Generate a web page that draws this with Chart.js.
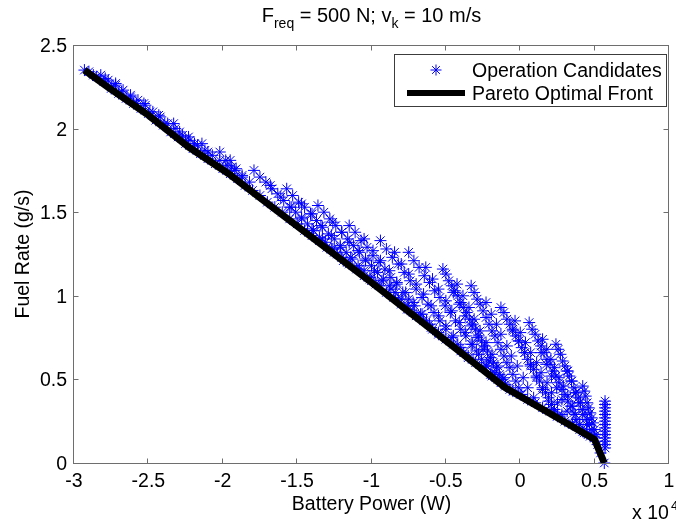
<!DOCTYPE html>
<html>
<head>
<meta charset="utf-8">
<script src="https://cdn.jsdelivr.net/npm/chart.js@4.4.1/dist/chart.umd.min.js"></script>
<style>
    html, body { margin: 0; padding: 0; background: #fff; }
    #wrap { width: 676px; height: 523px; }
</style>
</head>
<body>
<div id="wrap"><canvas id="fuelChart" width="676" height="523"></canvas></div>
<script>
'use strict';

// Pareto optimal front (battery power in 1e4 W, fuel rate in g/s)
const paretoBatt = [-2.93, -2.76, -2.50, -2.23, -1.96, -1.77, -1.43, -1.00, -0.44, -0.10, 0.27, 0.50, 0.565];
const paretoFuel = [2.35, 2.24, 2.08, 1.89, 1.73, 1.60, 1.37, 1.08, 0.69, 0.45, 0.26, 0.14, 0.0];

// operation candidates as [battery power, fuel rate]
// points lying just on top of the front
const candEdge = [
    [-2.90, 2.34], [-2.85, 2.31], [-2.80, 2.28], [-2.75, 2.24], [-2.70, 2.21], [-2.65, 2.18], [-2.60, 2.15],
    [-2.55, 2.12], [-2.50, 2.09], [-2.45, 2.05], [-2.40, 2.02], [-2.35, 1.98], [-2.30, 1.95], [-2.25, 1.91],
    [-2.20, 1.88], [-2.15, 1.85], [-2.10, 1.82], [-2.05, 1.79], [-2.00, 1.76], [-1.95, 1.73], [-1.90, 1.70],
    [-1.85, 1.66], [-1.80, 1.63], [-1.75, 1.60], [-1.70, 1.56], [-1.65, 1.53], [-1.60, 1.50], [-1.55, 1.46],
    [-1.50, 1.43], [-1.45, 1.39], [-1.40, 1.36], [-1.35, 1.33], [-1.30, 1.29], [-1.25, 1.26], [-1.20, 1.23],
    [-1.15, 1.19], [-1.10, 1.16], [-1.05, 1.12], [-1.00, 1.09], [-0.95, 1.06], [-0.90, 1.02], [-0.85, 0.99],
    [-0.80, 0.95], [-0.75, 0.92], [-0.70, 0.88], [-0.65, 0.85], [-0.60, 0.81], [-0.55, 0.78], [-0.50, 0.74],
    [-0.45, 0.71], [-0.40, 0.67], [-0.35, 0.64], [-0.30, 0.60], [-0.25, 0.57], [-0.20, 0.53], [-0.15, 0.50],
    [-0.10, 0.46], [-0.05, 0.43], [0.00, 0.41], [0.05, 0.38], [0.10, 0.36], [0.15, 0.33], [0.20, 0.31],
    [0.25, 0.28], [0.30, 0.25], [0.35, 0.23], [0.40, 0.20], [0.45, 0.18], [0.50, 0.15], [0.52, 0.11], [0.54, 0.06]
];
// thin band on the left, between the front and the upper edge
const candBand = [
    [-2.93, 2.35], [-2.87, 2.32], [-2.79, 2.30], [-2.75, 2.25], [-2.72, 2.27], [-2.68, 2.22], [-2.62, 2.19],
    [-2.58, 2.15], [-2.53, 2.15], [-2.49, 2.10], [-2.43, 2.08], [-2.39, 2.03], [-2.33, 2.03], [-2.29, 1.98],
    [-2.25, 1.93], [-2.23, 1.95], [-2.19, 1.91], [-2.14, 1.91], [-2.10, 1.86], [-2.02, 1.86], [-1.98, 1.81],
    [-1.94, 1.77], [-1.95, 1.81], [-1.91, 1.76], [-1.87, 1.72],
    [-2.82, 2.32], [-2.77, 2.29], [-2.72, 2.26], [-2.67, 2.23], [-2.62, 2.20], [-2.57, 2.17], [-2.52, 2.14],
    [-2.47, 2.10], [-2.42, 2.07], [-2.37, 2.03], [-2.32, 2.00], [-2.27, 1.96], [-2.22, 1.93], [-2.17, 1.90],
    [-2.12, 1.87], [-2.07, 1.84], [-2.02, 1.81], [-1.97, 1.78], [-1.92, 1.75], [-1.87, 1.71], [-1.82, 1.68]
];
const candMid = [
    [-1.79, 1.75], [-1.75, 1.71], [-1.71, 1.68], [-1.67, 1.64], [-1.63, 1.61], [-1.59, 1.57], [-1.55, 1.53], [-1.51, 1.50],
    [-1.47, 1.46], [-1.43, 1.43], [-1.39, 1.39], [-1.35, 1.35], [-1.31, 1.32], [-1.27, 1.28], [-1.23, 1.25],
    [-1.68, 1.66], [-1.61, 1.59], [-1.54, 1.53], [-1.47, 1.47], [-1.40, 1.40], [-1.33, 1.34], [-1.26, 1.28], [-1.19, 1.21],
    [-1.57, 1.64], [-1.53, 1.60], [-1.49, 1.56], [-1.45, 1.53], [-1.41, 1.49], [-1.37, 1.45], [-1.33, 1.41], [-1.29, 1.37],
    [-1.25, 1.34], [-1.21, 1.30], [-1.17, 1.26], [-1.13, 1.22], [-1.09, 1.18], [-1.05, 1.15], [-1.01, 1.11], [-0.97, 1.07],
    [-1.47, 1.55], [-1.40, 1.49], [-1.34, 1.42], [-1.27, 1.36], [-1.21, 1.29], [-1.14, 1.23], [-1.08, 1.16], [-1.01, 1.10],
    [-1.36, 1.54], [-1.32, 1.50], [-1.28, 1.46], [-1.24, 1.42], [-1.20, 1.38], [-1.16, 1.34], [-1.12, 1.30], [-1.08, 1.26], [-1.04, 1.22],
    [-1.00, 1.18], [-0.96, 1.14], [-0.92, 1.10], [-0.88, 1.06], [-0.84, 1.02], [-0.80, 0.98], [-0.76, 0.94], [-0.72, 0.90],
    [-1.26, 1.44], [-1.20, 1.38], [-1.15, 1.32], [-1.09, 1.27], [-1.04, 1.21], [-0.98, 1.15], [-0.93, 1.09], [-0.87, 1.04], [-0.82, 0.98], [-0.76, 0.92],
    [-1.15, 1.42], [-1.11, 1.38], [-1.07, 1.33], [-1.03, 1.29], [-0.99, 1.24], [-0.95, 1.20], [-0.91, 1.16], [-0.87, 1.11],
    [-0.83, 1.07], [-0.79, 1.02], [-0.75, 0.98], [-0.71, 0.94], [-0.67, 0.89], [-0.63, 0.85], [-0.59, 0.80],
    [-1.05, 1.34], [-0.99, 1.27], [-0.94, 1.21], [-0.88, 1.15], [-0.83, 1.08], [-0.77, 1.02], [-0.72, 0.96], [-0.66, 0.89], [-0.61, 0.83], [-0.55, 0.77],
    [-0.94, 1.33], [-0.90, 1.28], [-0.86, 1.23], [-0.82, 1.19], [-0.78, 1.14], [-0.74, 1.09], [-0.70, 1.04], [-0.66, 0.99],
    [-0.62, 0.95], [-0.58, 0.90], [-0.54, 0.85], [-0.50, 0.80], [-0.46, 0.75], [-0.42, 0.71], [-0.38, 0.66],
    [-0.845, 1.26], [-0.80, 1.19], [-0.75, 1.13], [-0.70, 1.07], [-0.65, 1.01], [-0.60, 0.94], [-0.55, 0.88], [-0.50, 0.82],
    [-0.45, 0.76], [-0.40, 0.69], [-0.35, 0.63],
    [-0.75, 1.26], [-0.715, 1.21], [-0.68, 1.17], [-0.645, 1.12], [-0.61, 1.08], [-0.575, 1.03], [-0.54, 0.99], [-0.505, 0.94], [-0.47, 0.90],
    [-0.435, 0.85], [-0.40, 0.80], [-0.365, 0.76], [-0.33, 0.71], [-0.295, 0.67], [-0.26, 0.62], [-0.225, 0.58], [-0.19, 0.53],
    [-0.635, 1.17], [-0.59, 1.10], [-0.55, 1.04], [-0.50, 0.97], [-0.46, 0.91], [-0.41, 0.84], [-0.37, 0.78], [-0.32, 0.71],
    [-0.28, 0.65], [-0.23, 0.58], [-0.19, 0.52]
];
const candRight = [
    [-0.52, 1.16], [-0.50, 1.13], [-0.48, 1.09], [-0.46, 1.06], [-0.44, 1.03], [-0.42, 1.00], [-0.40, 0.96], [-0.38, 0.93],
    [-0.36, 0.90], [-0.34, 0.86], [-0.32, 0.83], [-0.30, 0.80], [-0.28, 0.76], [-0.26, 0.73], [-0.24, 0.70], [-0.22, 0.67],
    [-0.20, 0.63], [-0.18, 0.60], [-0.16, 0.57], [-0.14, 0.53], [-0.12, 0.50], [-0.10, 0.47],
    [-0.45, 1.02], [-0.41, 0.95], [-0.37, 0.88], [-0.33, 0.82], [-0.29, 0.75], [-0.25, 0.68], [-0.21, 0.61], [-0.17, 0.54], [-0.13, 0.48],
    [-0.425, 1.07], [-0.385, 1.00], [-0.345, 0.93], [-0.31, 0.86], [-0.27, 0.79], [-0.23, 0.72], [-0.19, 0.65], [-0.15, 0.58],
    [-0.11, 0.51], [-0.07, 0.44],
    [-0.33, 1.06], [-0.31, 1.02], [-0.29, 0.98], [-0.27, 0.95], [-0.25, 0.91], [-0.23, 0.87], [-0.21, 0.83], [-0.19, 0.79],
    [-0.17, 0.76], [-0.15, 0.72], [-0.13, 0.68], [-0.11, 0.64], [-0.09, 0.60], [-0.07, 0.57], [-0.05, 0.53], [-0.03, 0.49],
    [-0.01, 0.45], [0.01, 0.41],
    [-0.23, 0.96], [-0.195, 0.89], [-0.16, 0.83], [-0.13, 0.77], [-0.09, 0.70], [-0.06, 0.64], [-0.02, 0.58], [0.02, 0.51],
    [0.05, 0.45], [0.09, 0.39],
    [-0.13, 0.93], [-0.11, 0.90], [-0.09, 0.86], [-0.07, 0.83], [-0.05, 0.79], [-0.03, 0.76], [-0.01, 0.73], [0.01, 0.69],
    [0.03, 0.66], [0.05, 0.62], [0.07, 0.59], [0.09, 0.56], [0.11, 0.52], [0.13, 0.49], [0.15, 0.45], [0.17, 0.42],
    [0.19, 0.39], [0.21, 0.35], [0.23, 0.32], [0.25, 0.28],
    [-0.05, 0.80], [-0.01, 0.73], [0.03, 0.66], [0.07, 0.58], [0.11, 0.51], [0.15, 0.44], [0.19, 0.37], [0.23, 0.30],
    [-0.035, 0.85], [0.00, 0.78], [0.035, 0.72], [0.07, 0.66], [0.11, 0.60], [0.14, 0.54], [0.18, 0.48], [0.21, 0.42],
    [0.25, 0.36], [0.28, 0.29],
    [0.06, 0.84], [0.08, 0.80], [0.10, 0.77], [0.12, 0.73], [0.14, 0.70], [0.16, 0.66], [0.18, 0.62], [0.20, 0.59],
    [0.22, 0.55], [0.24, 0.52], [0.26, 0.48], [0.28, 0.44], [0.30, 0.41], [0.32, 0.37], [0.34, 0.34], [0.36, 0.30],
    [0.38, 0.26], [0.40, 0.23], [0.42, 0.19],
    [0.14, 0.66], [0.175, 0.59], [0.21, 0.52], [0.245, 0.45], [0.28, 0.38], [0.315, 0.31], [0.35, 0.24],
    [0.15, 0.74], [0.178, 0.68], [0.206, 0.62], [0.23, 0.57], [0.26, 0.51], [0.29, 0.46], [0.32, 0.40], [0.35, 0.34],
    [0.37, 0.29], [0.40, 0.23], [0.43, 0.18],
    [0.24, 0.71], [0.255, 0.68], [0.27, 0.65], [0.285, 0.61], [0.30, 0.58], [0.315, 0.55], [0.33, 0.52], [0.345, 0.49],
    [0.36, 0.45], [0.375, 0.42], [0.39, 0.39], [0.405, 0.36], [0.42, 0.32], [0.435, 0.29], [0.45, 0.26], [0.465, 0.23],
    [0.48, 0.20], [0.495, 0.16],
    [0.32, 0.55], [0.345, 0.49], [0.37, 0.42], [0.395, 0.36], [0.42, 0.29], [0.445, 0.23], [0.47, 0.16],
    [0.42, 0.46], [0.43, 0.43], [0.44, 0.40], [0.45, 0.36], [0.46, 0.33], [0.47, 0.30], [0.48, 0.27], [0.49, 0.24],
    [0.50, 0.20], [0.51, 0.17]
];
// zero-torque points, the column at the right end
const candIdle = [
    [0.57, 0.37], [0.57, 0.35], [0.57, 0.33], [0.57, 0.31], [0.57, 0.29], [0.57, 0.27], [0.57, 0.25], [0.57, 0.23],
    [0.57, 0.21], [0.57, 0.19], [0.57, 0.17], [0.57, 0.15], [0.57, 0.13], [0.57, 0.11], [0.57, 0.09], [0.565, 0.0]
];

// axes
const xTicks = [-3, -2.5, -2, -1.5, -1, -0.5, 0, 0.5, 1];
const xTickLabels = ['-3', '-2.5', '-2', '-1.5', '-1', '-0.5', '0', '0.5', '1'];
const yTicks = [0, 0.5, 1, 1.5, 2, 2.5];
const yTickLabels = ['0', '0.5', '1', '1.5', '2', '2.5'];

const FONT = '"Liberation Sans", Arial, Helvetica, sans-serif';
const AXIS_GREY = '#6e6e6e';

const toPoint = p => ({ x: p[0], y: p[1] });
const candidates = [].concat(candEdge, candBand, candMid, candRight, candIdle).map(toPoint);
const front = paretoBatt.map((b, i) => ({ x: b, y: paretoFuel[i] }));

// draws a line of text made of [text, isSub] pieces, centred on cx
function drawPieces(ctx, pieces, cx, baseline, size, subSize, subDrop) {
    let total = 0;
    pieces.forEach(p => {
        ctx.font = (p[1] ? subSize : size) + 'px ' + FONT;
        total += ctx.measureText(p[0]).width;
    });
    let xPos = cx - total / 2;
    ctx.textAlign = 'left';
    ctx.textBaseline = 'alphabetic';
    pieces.forEach(p => {
        ctx.font = (p[1] ? subSize : size) + 'px ' + FONT;
        ctx.fillText(p[0], xPos, baseline + (p[1] ? subDrop : 0));
        xPos += ctx.measureText(p[0]).width;
    });
}

const matlabAxes = {
    id: 'matlabAxes',
    beforeDraw(chart) {
        const ctx = chart.ctx;
        ctx.save();
        ctx.fillStyle = '#ffffff';
        ctx.fillRect(0, 0, chart.width, chart.height);
        ctx.restore();
    },
    afterDatasetsDraw(chart) {
        const { ctx, chartArea: a, scales: { x, y } } = chart;
        const left = Math.round(a.left) - 0.5;
        const right = Math.round(a.right) - 0.5;
        const top = Math.round(a.top) + 0.5;
        const bottom = Math.round(a.bottom) + 0.5;

        ctx.save();
        ctx.strokeStyle = AXIS_GREY;
        ctx.lineWidth = 1;
        ctx.strokeRect(left, top, right - left, bottom - top);

        // inward ticks on all four sides
        ctx.beginPath();
        xTicks.forEach(v => {
            const px = Math.round(x.getPixelForValue(v)) - 0.5;
            ctx.moveTo(px, bottom); ctx.lineTo(px, bottom - 5);
            ctx.moveTo(px, top); ctx.lineTo(px, top + 5);
        });
        yTicks.forEach(v => {
            const py = Math.round(y.getPixelForValue(v)) + 0.5;
            ctx.moveTo(left, py); ctx.lineTo(left + 5, py);
            ctx.moveTo(right, py); ctx.lineTo(right - 5, py);
        });
        ctx.stroke();

        // tick labels
        ctx.fillStyle = '#000';
        ctx.font = '19.5px ' + FONT;
        ctx.textAlign = 'center';
        ctx.textBaseline = 'alphabetic';
        xTicks.forEach((v, i) => ctx.fillText(xTickLabels[i], x.getPixelForValue(v), a.bottom + 24));
        ctx.textAlign = 'right';
        yTicks.forEach((v, i) => ctx.fillText(yTickLabels[i], a.left - 7, y.getPixelForValue(v) + 7));

        // axis titles
        ctx.textAlign = 'center';
        ctx.fillText('Battery Power (W)', (a.left + a.right) / 2, 510);
        ctx.save();
        ctx.translate(29, (a.top + a.bottom) / 2);
        ctx.rotate(-Math.PI / 2);
        ctx.fillText('Fuel Rate (g/s)', 0, 0);
        ctx.restore();

        // exponent note
        ctx.textAlign = 'left';
        ctx.fillText('x 10', 632, 519);
        ctx.font = '13px ' + FONT;
        ctx.fillText('4', 671, 510);

        // title
        drawPieces(ctx, [['F', false], ['req', true], [' = 500 N; v', false], ['k', true], [' = 10 m/s', false]],
            (a.left + a.right) / 2, 22, 20, 14, 6);

        // legend
        ctx.fillStyle = '#fff';
        ctx.fillRect(394, 54, 273, 53);
        ctx.strokeStyle = '#3c3c3c';
        ctx.strokeRect(394.5, 54.5, 272, 52);
        ctx.strokeStyle = '#0000ff';
        Chart.helpers.drawPoint(ctx, { pointStyle: 'star', radius: 5.5, borderWidth: 1 }, 436, 70);
        ctx.strokeStyle = '#000';
        ctx.lineWidth = 6;
        ctx.beginPath();
        ctx.moveTo(407, 93);
        ctx.lineTo(465, 93);
        ctx.stroke();
        ctx.fillStyle = '#000';
        ctx.font = '19.5px ' + FONT;
        ctx.fillText('Operation Candidates', 472, 77);
        ctx.fillText('Pareto Optimal Front', 472, 100);
        ctx.restore();
    }
};

const chart = new Chart(document.getElementById('fuelChart').getContext('2d'), {
    type: 'scatter',
    data: {
        datasets: [{
            label: 'Pareto Optimal Front',
            data: front,
            showLine: true,
            borderColor: '#000',
            borderWidth: 7,
            borderJoinStyle: 'round',
            pointRadius: 0,
            tension: 0,
            clip: false,
            order: 0
        }, {
            label: 'Operation Candidates',
            data: candidates,
            pointStyle: 'star',
            pointRadius: 6,
            pointBorderWidth: 1,
            borderColor: '#0000ff',
            backgroundColor: '#0000ff',
            showLine: false,
            clip: false,
            order: 1
        }]
    },
    options: {
        responsive: false,
        devicePixelRatio: 1,
        animation: false,
        events: [],
        layout: { padding: { left: 74, right: 1, top: 45, bottom: 60 } },
        scales: {
            x: { type: 'linear', min: -3, max: 1, display: false },
            y: { type: 'linear', min: 0, max: 2.5, display: false }
        },
        plugins: {
            legend: { display: false },
            tooltip: { enabled: false }
        }
    },
    plugins: [matlabAxes]
});
</script>
</body>
</html>
